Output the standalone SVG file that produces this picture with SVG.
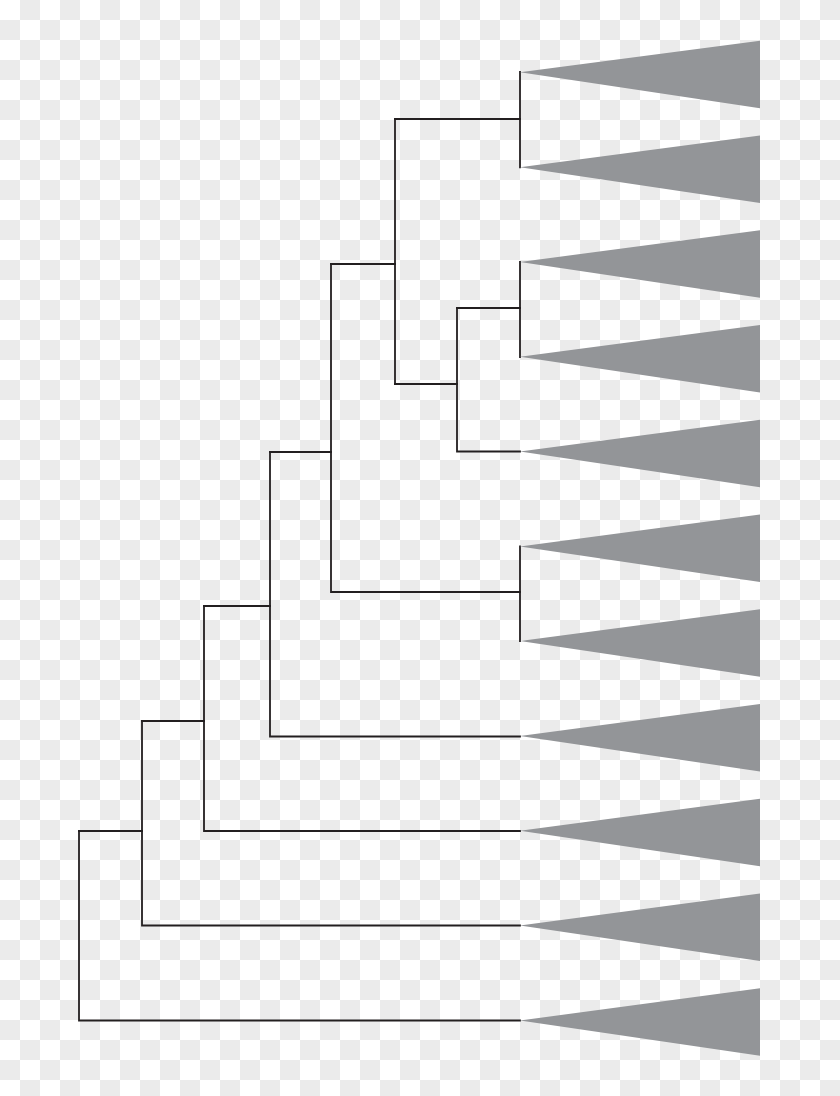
<svg xmlns="http://www.w3.org/2000/svg" width="840" height="1096" viewBox="0 0 840 1096">
  <style>
    .br { fill: none; stroke: #231f20; stroke-width: 1.8; stroke-linejoin: miter; stroke-linecap: square; }
    .tri { fill: #939598; stroke: none; }
  </style>
  <defs>
    <pattern id="checker" x="0" y="0" width="40" height="40" patternUnits="userSpaceOnUse">
      <rect x="0" y="0" width="40" height="40" fill="#ffffff"/>
      <rect x="20" y="0" width="20" height="20" fill="#ebebeb"/>
      <rect x="0" y="20" width="20" height="20" fill="#ebebeb"/>
    </pattern>
  </defs>
  <rect id="background" x="0" y="0" width="840" height="1096" fill="url(#checker)"/>

  <g id="connectors" class="br">
    <path d="M79,831 V1020.5 H520"/>
    <path d="M79,831 H142"/>
    <path d="M142,721 V925.5 H520"/>
    <path d="M142,721 H204"/>
    <path d="M204,606 V831 H520"/>
    <path d="M204,606 H270"/>
    <path d="M270,452 V736.5 H520"/>
    <path d="M270,452 H331"/>
    <path d="M331,264 V592 H520"/>
    <path d="M520,546.5 V641"/>
    <path d="M331,264 H395"/>
    <path d="M395,119 V384"/>
    <path d="M395,119 H520"/>
    <path d="M520,72 V167.3"/>
    <path d="M395,384 H457"/>
    <path d="M457,308 V451.5 H520"/>
    <path d="M457,308 H520"/>
    <path d="M520,262 V357"/>
  </g>

  <g id="clade1"><polygon class="tri" points="520,72.3 760,40.7 760,108.2"/></g>
  <g id="clade2"><polygon class="tri" points="520,167.3 760,135.5 760,203"/></g>
  <g id="clade3"><polygon class="tri" points="520,262 760,230.2 760,297.7"/></g>
  <g id="clade4"><polygon class="tri" points="520,356.8 760,325 760,392.5"/></g>
  <g id="clade5"><polygon class="tri" points="520,451.5 760,419.7 760,487.2"/></g>
  <g id="clade6"><polygon class="tri" points="520,546.5 760,514.5 760,582"/></g>
  <g id="clade7"><polygon class="tri" points="520,641 760,609.3 760,676.8"/></g>
  <g id="clade8"><polygon class="tri" points="520,736 760,704 760,771.5"/></g>
  <g id="clade9"><polygon class="tri" points="520,830.8 760,798.8 760,866.3"/></g>
  <g id="clade10"><polygon class="tri" points="520,925.5 760,893.5 760,961"/></g>
  <g id="clade11"><polygon class="tri" points="520,1020.5 760,988.3 760,1055.8"/></g>
</svg>
